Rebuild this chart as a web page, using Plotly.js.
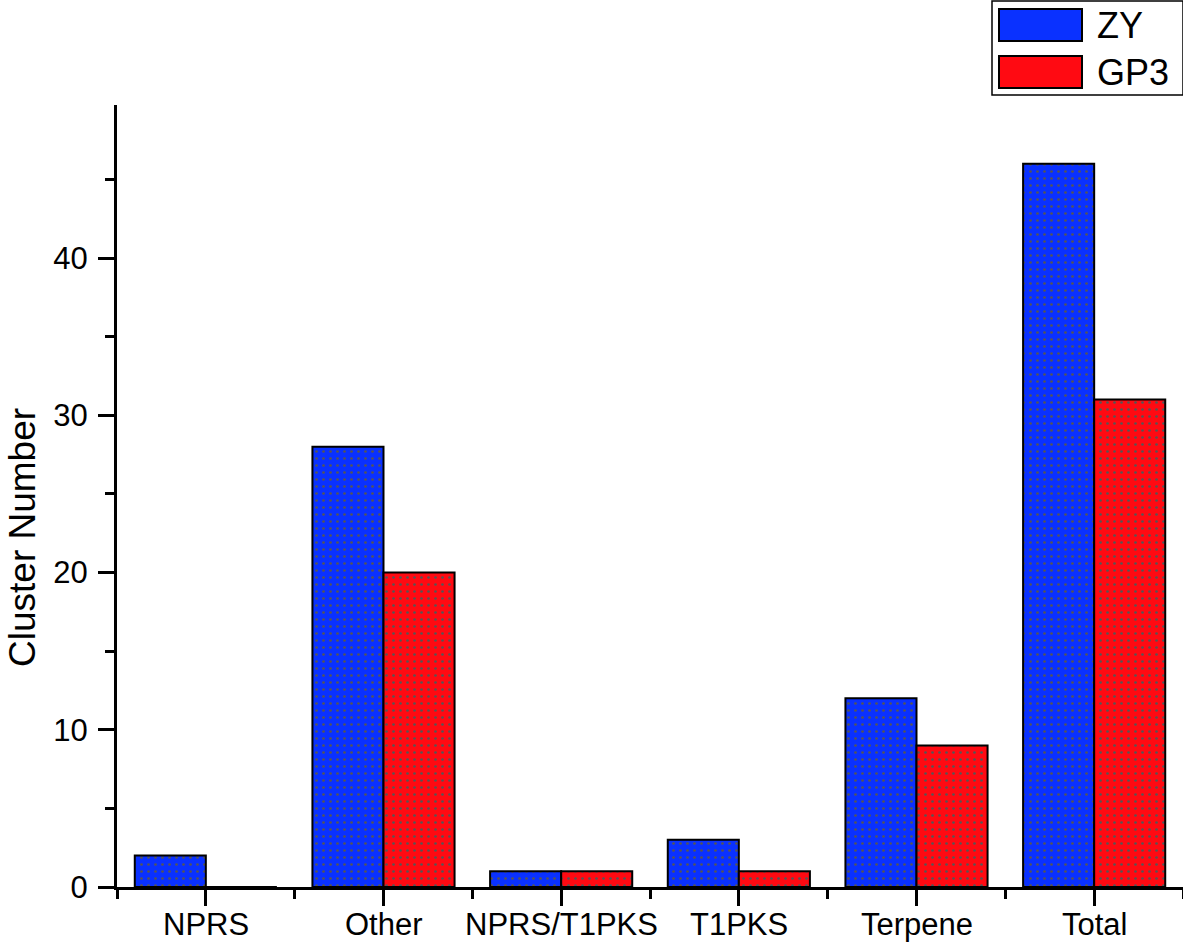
<!DOCTYPE html>
<html>
<head>
<meta charset="utf-8">
<script src="https://cdn.plot.ly/plotly-3.0.1.min.js"></script>
<style>
  html, body { margin: 0; padding: 0; background: #fff; }
  #chart { width: 1183px; height: 945px; }
</style>
</head>
<body>
<div id="chart"></div>
<script>
const categories = ['NPRS', 'Other', 'NPRS/T1PKS', 'T1PKS', 'Terpene', 'Total'];
const seriesNames = ['ZY', 'GP3'];
const zyValues = [2, 28, 1, 3, 12, 46];
const gp3Values = [0, 20, 1, 1, 9, 31];
const colors = ['#0a31ff', '#ff0a12'];
const yTitle = 'Cluster Number';

const W = 1183, H = 945;
const margin = { l: 117, r: 0, t: 105, b: 58 };
const plotW = W - margin.l - margin.r;
const plotH = H - margin.t - margin.b;
// pixel -> paper helpers for the hand-drawn legend box and y title
const px = x => (x - margin.l) / plotW;
const py = y => (H - margin.b - y) / plotH;

const xs = categories.map((c, i) => i);
const font = 'Liberation Sans, Arial, sans-serif';

const makeTrace = (name, values, color) => ({
  type: 'bar',
  name: name,
  x: xs,
  y: values,
  marker: {
    color: color,
    line: { color: '#000', width: 2 },
    pattern: { shape: '.', fgcolor: '#555', bgcolor: color, size: 7, solidity: 0.12 },
  },
  showlegend: false,
  hoverinfo: 'y',
});

const data = [
  makeTrace(seriesNames[0], zyValues, colors[0]),
  makeTrace(seriesNames[1], gp3Values, colors[1]),
];

// legend drawn as shapes so the swatches match the wide boxes
const shapes = [
  { type: 'rect', xref: 'paper', yref: 'paper', x0: px(992), x1: px(1183), y0: py(95), y1: py(1),
    line: { color: '#000', width: 1.5 }, fillcolor: '#fff' },
];
const annotations = [];
seriesNames.forEach((name, i) => {
  const top = 9 + i * 47;
  shapes.push({ type: 'rect', xref: 'paper', yref: 'paper', x0: px(999), x1: px(1082), y0: py(top + 32), y1: py(top),
    line: { color: '#000', width: 2 }, fillcolor: colors[i] });
  annotations.push({ xref: 'paper', yref: 'paper', x: px(1095), y: py(top + 16), xanchor: 'left', yanchor: 'middle',
    text: name, showarrow: false, font: { family: font, size: 36, color: '#000' } });
});

// category labels sit tight under the long ticks, closer than plotly's tick labels allow
categories.forEach((c, i) => {
  annotations.push({ xref: 'x', yref: 'paper', x: xs[i], y: 0, yshift: -56, xanchor: 'center', yanchor: 'bottom',
    text: c, showarrow: false, borderpad: 0, font: { family: font, size: 31, color: '#000' } });
});

// y title sits a bit below the plot centre in the original, so place it by hand
annotations.push({ xref: 'paper', yref: 'paper', x: px(22), y: py(538), xanchor: 'center', yanchor: 'middle',
  textangle: -90, text: yTitle, showarrow: false, borderpad: 0, font: { family: font, size: 37, color: '#000' } });

const layout = {
  width: W,
  height: H,
  margin: margin,
  paper_bgcolor: '#fff',
  plot_bgcolor: '#fff',
  font: { family: font, size: 31, color: '#000' },
  barmode: 'group',
  bargap: 0.2,
  bargroupgap: 0,
  xaxis: {
    type: 'linear',
    range: [-0.5, 5.5],
    tickvals: xs,
    showticklabels: false,
    ticks: 'outside',
    ticklen: 16,
    tickwidth: 3,
    tickcolor: '#000',
    minor: { tick0: 0.5, dtick: 1, ticks: 'outside', ticklen: 9, tickwidth: 3, tickcolor: '#000', showgrid: false },
    showline: true,
    linecolor: '#000',
    linewidth: 3,
    showgrid: false,
    zeroline: false,
    fixedrange: true,
  },
  yaxis: {
    range: [0, 49.73],
    dtick: 10,
    ticks: 'outside',
    ticklen: 16,
    tickwidth: 3,
    tickcolor: '#000',
    ticklabelstandoff: 4,
    minor: { dtick: 5, ticks: 'outside', ticklen: 9, tickwidth: 3, tickcolor: '#000', showgrid: false },
    showline: true,
    linecolor: '#000',
    linewidth: 3,
    showgrid: false,
    zeroline: false,
    fixedrange: true,
  },
  shapes: shapes,
  annotations: annotations,
};

Plotly.newPlot('chart', data, layout, { displayModeBar: false, responsive: false });
</script>
</body>
</html>
